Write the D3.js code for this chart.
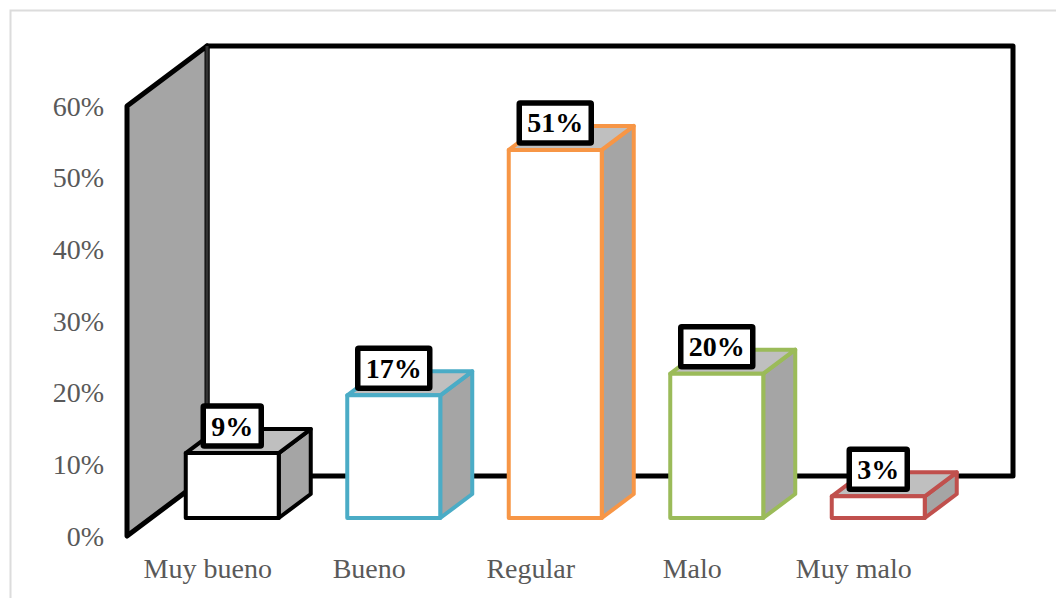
<!DOCTYPE html>
<html>
<head>
<meta charset="utf-8">
<script src="https://cdn.jsdelivr.net/npm/d3@7"></script>
<style>
html, body { margin: 0; padding: 0; background: #fff; overflow: hidden; }
svg { display: block; }
text { font-family: "Liberation Serif", serif; }
</style>
</head>
<body>
<svg id="chart" width="1056" height="600"></svg>
<script>
const categories = ["Muy bueno", "Bueno", "Regular", "Malo", "Muy malo"];
const percentages = [9, 17, 51, 20, 3];
const barColors = ["#000000", "#4bacc6", "#f79646", "#9bbb59", "#c0504d"];
const yTicks = [0, 10, 20, 30, 40, 50, 60];

const svg = d3.select("#chart");

// Chart area outline
svg.append("path")
  .attr("d", "M1056,10.5H10.5V598")
  .attr("fill", "none").attr("stroke", "#dcdcdc").attr("stroke-width", 2);

const y = d3.scaleLinear().domain([0, 60]).range([536, 106]);
const x = d3.scaleBand().domain(categories).range([127, 934.5]);

// Oblique projection of the 3D box: depth shifts right and up
const wallDepth = { dx: 80, dy: -60 };
const barDepth = { dx: 32, dy: -24 };
const barY = d3.scaleLinear().domain([0, 60]).range([518, 85]);
const barWidth = 93;
const barCenter = c => x(c) + x.bandwidth() / 2 + 24.5;

// Back wall and floor edge
const wallLeft = x.range()[0];
const wallRight = 1013;
const backTop = y(60) + wallDepth.dy;
const backBottom = y(0) + wallDepth.dy;
const backX = wallLeft + wallDepth.dx;

svg.append("path")
  .attr("d", `M${backX},${backBottom}V${backTop}H${wallRight}V${backBottom}H${backX}`)
  .attr("fill", "#fff").attr("stroke", "#000").attr("stroke-width", 5)
  .attr("stroke-linejoin", "round");

// Left side wall
svg.append("path")
  .attr("d", `M${wallLeft},${y(0)}V${y(60)}L${backX},${backTop}V${backBottom}Z`)
  .attr("fill", "#a5a5a5").attr("stroke", "#000").attr("stroke-width", 5)
  .attr("stroke-linejoin", "round");
svg.append("line")
  .attr("x1", backX).attr("x2", backX).attr("y1", backTop).attr("y2", backBottom)
  .attr("stroke", "#333").attr("stroke-width", 3);

// Y axis labels
svg.append("g").selectAll("text").data(yTicks).join("text")
  .attr("x", 104).attr("y", d => y(d))
  .attr("dy", "0.34em")
  .attr("text-anchor", "end")
  .attr("font-size", 28).attr("fill", "#595959")
  .text(d => d + "%");

// Category labels
svg.append("g").selectAll("text").data(categories).join("text")
  .attr("x", c => barCenter(c) - 24.5)
  .attr("y", 568).attr("dy", "0.34em")
  .attr("text-anchor", "middle")
  .attr("font-size", 28).attr("fill", "#595959")
  .text(c => c);

// Bars: right face, top face, then front face
const rows = categories.map((c, i) => ({ c, v: percentages[i], color: barColors[i] }));
const bars = svg.append("g").selectAll("g").data(rows).join("g")
  .attr("fill", "none").attr("stroke-width", 4).attr("stroke-linejoin", "round")
  .attr("stroke", d => d.color);

bars.append("path")
  .attr("fill", "#a5a5a5")
  .attr("d", d => {
    const r = barCenter(d.c) + barWidth / 2, t = barY(d.v), b = barY(0);
    return `M${r},${t}l${barDepth.dx},${barDepth.dy}V${b + barDepth.dy}L${r},${b}Z`;
  });
bars.append("path")
  .attr("fill", "#bfbfbf")
  .attr("d", d => {
    const l = barCenter(d.c) - barWidth / 2, t = barY(d.v);
    return `M${l},${t}l${barDepth.dx},${barDepth.dy}h${barWidth}l${-barDepth.dx},${-barDepth.dy}Z`;
  });
bars.append("rect")
  .attr("fill", "#fff")
  .attr("x", d => barCenter(d.c) - barWidth / 2)
  .attr("y", d => barY(d.v))
  .attr("width", barWidth)
  .attr("height", d => barY(0) - barY(d.v));

// Boxed value labels
const labels = svg.append("g").selectAll("g").data(rows).join("g")
  .attr("transform", d => `translate(${barCenter(d.c)},${barY(d.v) - 27})`);
labels.append("text")
  .attr("text-anchor", "middle").attr("dy", "0.34em")
  .attr("font-size", 28).attr("font-weight", "bold").attr("fill", "#000")
  .text(d => d.v + "%");
labels.each(function () {
  const g = d3.select(this);
  const w = g.select("text").node().getComputedTextLength() + 16;
  g.insert("rect", "text")
    .attr("x", -w / 2).attr("y", -20)
    .attr("width", w).attr("height", 40)
    .attr("rx", 1)
    .attr("fill", "#fff").attr("stroke", "#000").attr("stroke-width", 5.5);
});
</script>
</body>
</html>
